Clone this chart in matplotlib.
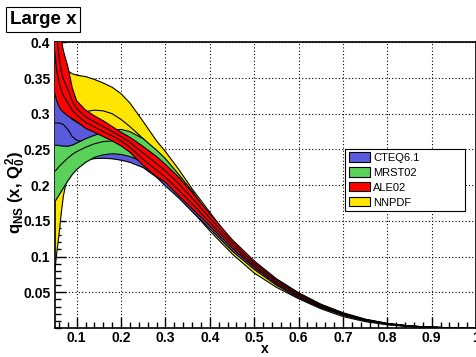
import matplotlib
matplotlib.use("Agg")
import matplotlib.pyplot as plt
from matplotlib.patches import Patch
from matplotlib.ticker import MultipleLocator, FixedLocator

plt.rcParams['font.family'] = ['Liberation Sans', 'DejaVu Sans']
plt.rcParams['mathtext.fontset'] = 'custom'
plt.rcParams['mathtext.rm'] = 'Liberation Sans:bold'
plt.rcParams['mathtext.it'] = 'Liberation Sans:bold'
plt.rcParams['mathtext.bf'] = 'Liberation Sans:bold'

# x grid shared by all curves
x = [0.05, 0.055, 0.06, 0.065, 0.07, 0.08, 0.09, 0.1, 0.12, 0.14, 0.16, 0.18, 0.2, 0.22,
     0.25, 0.28, 0.3, 0.33, 0.36, 0.4, 0.45, 0.5, 0.55, 0.6, 0.65, 0.7, 0.75, 0.8, 0.85,
     0.9, 0.95, 1.0]

# NNPDF (yellow)
nn_up = [0.5, 0.46, 0.43, 0.4, 0.378, 0.36, 0.356, 0.354, 0.352, 0.348, 0.343, 0.337, 0.328,
         0.315, 0.289, 0.262, 0.247, 0.222, 0.195, 0.162, 0.121, 0.089, 0.065, 0.046, 0.031,
         0.0195, 0.011, 0.0055, 0.0025, 0.0009, 0.0002, 0.0]
nn_mid = [0.5, 0.44, 0.40, 0.37, 0.35, 0.325, 0.312, 0.305, 0.303, 0.305, 0.304, 0.3, 0.292,
          0.282, 0.265, 0.245, 0.233, 0.212, 0.188, 0.153, 0.115, 0.085, 0.062, 0.043, 0.029,
          0.018, 0.01, 0.005, 0.0022, 0.0008, 0.0002, 0.0]
nn_lo = [0.075, 0.105, 0.13, 0.16, 0.185, 0.215, 0.235, 0.245, 0.255, 0.262, 0.265, 0.265,
         0.262, 0.256, 0.242, 0.222, 0.207, 0.186, 0.164, 0.136, 0.104, 0.077, 0.057, 0.041,
         0.027, 0.016, 0.009, 0.0045, 0.002, 0.0007, 0.0001, 0.0]

# CTEQ6.1 (blue)
ct_up = [0.34, 0.325, 0.316, 0.31, 0.305, 0.298, 0.292, 0.288, 0.281, 0.275, 0.27, 0.265,
         0.26, 0.254, 0.242, 0.228, 0.217, 0.198, 0.178, 0.15, 0.118, 0.09, 0.066, 0.047,
         0.032, 0.0205, 0.0118, 0.006, 0.0027, 0.001, 0.0002, 0.0]
ct_mid = [0.287, 0.287, 0.287, 0.286, 0.285, 0.278, 0.268, 0.263, 0.26, 0.258, 0.256, 0.253,
          0.249, 0.244, 0.233, 0.219, 0.209, 0.191, 0.171, 0.145, 0.114, 0.087, 0.064,
          0.0455, 0.031, 0.0198, 0.0114, 0.0058, 0.0026, 0.001, 0.0002, 0.0]
ct_lo = [0.21, 0.213, 0.216, 0.219, 0.222, 0.226, 0.229, 0.231, 0.235, 0.2372, 0.2376, 0.237,
         0.235, 0.232, 0.2245, 0.211, 0.199, 0.182, 0.163, 0.139, 0.108, 0.082, 0.06, 0.042,
         0.0285, 0.018, 0.0102, 0.0051, 0.0022, 0.0008, 0.0001, 0.0]

# MRST02 (green)
mr_up = [0.256, 0.256, 0.2555, 0.255, 0.2548, 0.2545, 0.256, 0.259, 0.265, 0.27, 0.274, 0.277,
         0.278, 0.275, 0.265, 0.249, 0.237, 0.215, 0.192, 0.157, 0.122, 0.092, 0.068, 0.048,
         0.0325, 0.0207, 0.012, 0.006, 0.0027, 0.001, 0.0002, 0.0]
mr_mid = [0.219, 0.222, 0.226, 0.229, 0.232, 0.238, 0.243, 0.247, 0.253, 0.258, 0.261, 0.262,
          0.261, 0.258, 0.249, 0.235, 0.224, 0.204, 0.183, 0.152, 0.118, 0.09, 0.066, 0.0465,
          0.0315, 0.02, 0.0115, 0.0058, 0.0026, 0.001, 0.0002, 0.0]
mr_lo = [0.176, 0.181, 0.186, 0.191, 0.196, 0.206, 0.215, 0.222, 0.232, 0.239, 0.2425, 0.244,
         0.243, 0.24, 0.233, 0.221, 0.211, 0.193, 0.173, 0.146, 0.114, 0.086, 0.063, 0.0445,
         0.03, 0.019, 0.011, 0.0056, 0.0025, 0.0009, 0.0002, 0.0]

# ALE02 (red)
al_up = [0.55, 0.48, 0.44, 0.405, 0.388, 0.366, 0.336, 0.318, 0.305, 0.297, 0.29, 0.282,
         0.274, 0.267, 0.254, 0.24, 0.229, 0.211, 0.19, 0.16, 0.124, 0.094, 0.069, 0.0495,
         0.0335, 0.0215, 0.0125, 0.0066, 0.003, 0.0012, 0.0003, 0.0]
al_in2 = [0.46, 0.41, 0.38, 0.36, 0.348, 0.334, 0.318, 0.307, 0.296, 0.2885, 0.282, 0.275,
          0.268, 0.26, 0.245, 0.23, 0.22, 0.202, 0.182, 0.154, 0.12, 0.091, 0.067, 0.048,
          0.0325, 0.0205, 0.0118, 0.0062, 0.0029, 0.0011, 0.0003, 0.0]
al_in1 = [0.39, 0.36, 0.345, 0.333, 0.325, 0.315, 0.305, 0.298, 0.288, 0.2815, 0.275, 0.269,
          0.262, 0.253, 0.236, 0.221, 0.211, 0.193, 0.174, 0.148, 0.116, 0.088, 0.0645, 0.046,
          0.031, 0.0195, 0.011, 0.0058, 0.0027, 0.0011, 0.0002, 0.0]
al_lo = [0.33, 0.318, 0.31, 0.305, 0.302, 0.297, 0.293, 0.2895, 0.2795, 0.274, 0.268, 0.262,
         0.255, 0.246, 0.2275, 0.212, 0.204, 0.185, 0.167, 0.143, 0.112, 0.085, 0.062, 0.044,
         0.0295, 0.0185, 0.0105, 0.0055, 0.0025, 0.001, 0.0002, 0.0]

YELLOW = "#ffe600"
BLUE = "#5a5adc"
GREEN = "#5ad25a"
RED = "#ff0000"

fig = plt.figure(figsize=(4.77, 3.57), dpi=100)
ax = fig.add_axes([0.1143, 0.0812, 0.8837, 0.8003])

bands = [
    (nn_lo, nn_up, [nn_mid], YELLOW),
    (ct_lo, ct_up, [ct_mid], BLUE),
    (mr_lo, mr_up, [mr_mid], GREEN),
    (al_lo, al_up, [al_in1, al_in2], RED),
]
z = 2
for lo, up, mids, col in bands:
    ax.fill_between(x, lo, up, color=col, lw=0, zorder=z)
    for line in [lo, up] + mids:
        ax.plot(x, line, color="black", lw=0.8, zorder=z + 0.5)
    z += 1

ax.set_xlim(0.05, 1.0)
ax.set_ylim(0, 0.4)
ax.xaxis.set_major_locator(FixedLocator([0.1, 0.2, 0.3, 0.4, 0.5, 0.6, 0.7, 0.8, 0.9, 1.0]))
ax.xaxis.set_minor_locator(MultipleLocator(0.02))
ax.yaxis.set_major_locator(FixedLocator([0.05, 0.1, 0.15, 0.2, 0.25, 0.3, 0.35, 0.4]))
ax.yaxis.set_minor_locator(MultipleLocator(0.01))
ax.set_xticklabels(["0.1", "0.2", "0.3", "0.4", "0.5", "0.6", "0.7", "0.8", "0.9", "1"])
ax.set_yticklabels(["0.05", "0.1", "0.15", "0.2", "0.25", "0.3", "0.35", "0.4"])
ax.tick_params(which="both", direction="in", top=False, right=False, width=1)
ax.tick_params(which="major", length=8, labelsize=10, pad=3)
ax.tick_params(which="minor", length=4)
ax.tick_params(axis="x", which="major", pad=2)
for lab in ax.get_xticklabels() + ax.get_yticklabels():
    lab.set_fontweight("bold")
ax.grid(True, which="major", color="black", ls=(0, (1, 2)), lw=0.8)
ax.set_axisbelow(True)
for sp in ax.spines.values():
    sp.set_linewidth(1.2)

fig.text(0.556, 0.004, "x", fontsize=10, fontweight="bold", ha="center", va="bottom")
fig.text(0.034, 0.46, r"$q_{NS}$ (x, $Q_0^2$)", rotation=90, fontsize=12,
         fontweight="bold", ha="center", va="center")

fig.text(0.02, 0.945, "Large x", fontsize=13.5, fontweight="bold", ha="left", va="center",
         bbox=dict(boxstyle="square,pad=0.2", fc="white", ec="black", lw=0.8))

handles = [Patch(facecolor=c, edgecolor="black", lw=0.8) for c in (BLUE, GREEN, RED, YELLOW)]
leg = ax.legend(handles, ["CTEQ6.1", "MRST02", "ALE02", "NNPDF"], loc="upper left",
                bbox_to_anchor=(0.689, 0.428, 0.285, 0.2), mode="expand", fontsize=8,
                frameon=True, fancybox=False, edgecolor="black", framealpha=1,
                borderaxespad=0, handlelength=1.9, handleheight=0.9, labelspacing=0.4,
                borderpad=0.35, handletextpad=0.3)
leg.get_frame().set_linewidth(0.8)
leg.set_zorder(10)

fig.savefig("out.png", dpi=100)
